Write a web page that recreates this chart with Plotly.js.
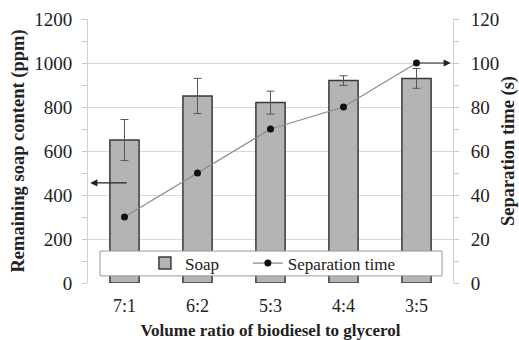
<!DOCTYPE html>
<html><head><meta charset="utf-8">
<script src="https://cdn.plot.ly/plotly-3.0.1.min.js"></script>
<style>html,body{margin:0;padding:0;background:#fff;}#c{width:519px;height:340px;}</style>
</head><body><div id="c"></div>
<script>
const categories = ["7:1", "6:2", "5:3", "4:4", "3:5"];
const soap = [650, 850, 820, 920, 930];
const soapErr = [93, 80, 52, 22, 45];
const sepTime = [30, 50, 70, 80, 100];

const serif = '"Liberation Serif", "Times New Roman", serif';
const idx = categories.map((c, i) => i);

const traces = [
  {
    type: "bar", name: "Soap", x: idx, y: soap, legend: "legend",
    width: 0.4,
    marker: {color: "#b4b4b4", line: {color: "#3a3a3a", width: 1.5}},
    error_y: {type: "data", array: soapErr, visible: true, color: "#555", thickness: 1, width: 4}
  },
  {
    type: "scatter", mode: "lines+markers", name: "Separation time", x: idx, y: sepTime,
    yaxis: "y2", legend: "legend2",
    line: {color: "#8a8a8a", width: 1.2},
    marker: {color: "#111", size: 7}
  }
];

const legendBase = {
  orientation: "h", yanchor: "top", y: 0.142, xanchor: "left",
  bgcolor: "rgba(0,0,0,0)", borderwidth: 0,
  font: {size: 17, family: serif, color: "#222"}
};

const layout = {
  width: 519, height: 340,
  margin: {l: 88, r: 66, t: 19, b: 57},
  paper_bgcolor: "#fff", plot_bgcolor: "#fff",
  font: {family: serif, color: "#222", size: 16},
  showlegend: true,
  xaxis: {
    range: [-0.5, 4.5], tickvals: idx, ticktext: categories,
    showgrid: false, zeroline: false, showline: false, ticks: "",
    tickfont: {size: 18, family: serif}, ticklabelstandoff: 10,
    title: {text: "<b>Volume ratio of biodiesel to glycerol</b>", font: {size: 17, family: serif}, standoff: 14}
  },
  yaxis: {
    range: [0, 1200], dtick: 200, showgrid: true, gridcolor: "#d9d9d9", gridwidth: 1,
    zeroline: false, showline: true, linecolor: "#d0d0d0",
    ticks: "outside", ticklen: 5, tickcolor: "#c8c8c8",
    minor: {dtick: 100, ticks: "outside", ticklen: 5, tickcolor: "#c8c8c8", showgrid: false},
    tickfont: {size: 19, family: serif}, ticklabelstandoff: 6,
    title: {text: "<b>Remaining soap content (ppm)</b>", font: {size: 18.5, family: serif}, standoff: 4}
  },
  yaxis2: {
    overlaying: "y", side: "right", range: [0, 120], dtick: 20,
    showgrid: false, zeroline: false, showline: true, linecolor: "#d0d0d0",
    ticks: "outside", ticklen: 5, tickcolor: "#c8c8c8",
    minor: {dtick: 10, ticks: "outside", ticklen: 5, tickcolor: "#c8c8c8", showgrid: false},
    tickfont: {size: 19, family: serif}, ticklabelstandoff: 8,
    title: {text: "<b>Separation time (s)</b>", font: {size: 18.5, family: serif}, standoff: 17}
  },
  legend: Object.assign({}, legendBase, {x: 0.156}),
  legend2: Object.assign({}, legendBase, {x: 0.438}),
  shapes: [
    {type: "rect", xref: "paper", yref: "paper", x0: 0.033, x1: 0.97, y0: 0.027, y1: 0.121,
     fillcolor: "#fff", line: {color: "#9a9a9a", width: 1}, layer: "above"}
  ],
  annotations: [
    {x: -0.47, y: 455, xref: "x", yref: "y", ax: 0.05, ay: 455, axref: "x", ayref: "y",
     showarrow: true, arrowhead: 2, arrowsize: 1.2, arrowwidth: 1.2, arrowcolor: "#222", text: ""},
    {x: 4.47, y: 100, xref: "x", yref: "y2", ax: 4, ay: 100, axref: "x", ayref: "y2",
     showarrow: true, arrowhead: 2, arrowsize: 1.2, arrowwidth: 1.2, arrowcolor: "#222", text: ""}
  ]
};

Plotly.newPlot("c", traces, layout, {displayModeBar: false, staticPlot: true});
</script>
</body></html>
